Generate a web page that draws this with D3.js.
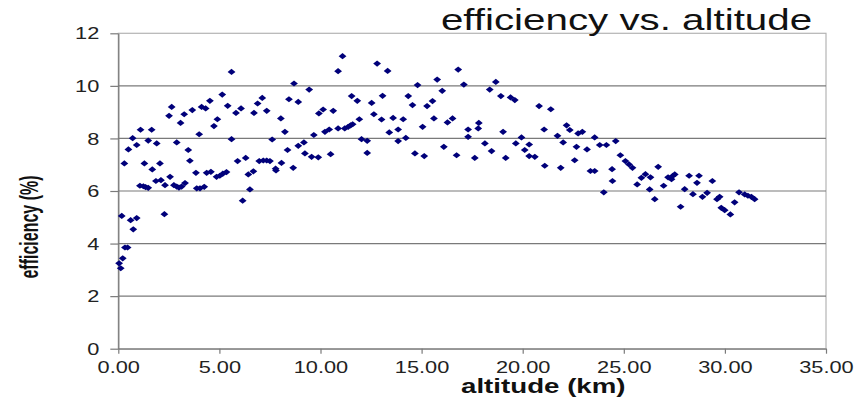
<!DOCTYPE html>
<html>
<head>
<meta charset="utf-8">
<script src="https://cdn.jsdelivr.net/npm/d3@7"></script>
<style>
  html, body { margin: 0; padding: 0; background: #fff; }
  svg { display: block; font-family: "Liberation Sans", Arial, sans-serif; }
</style>
</head>
<body>
<svg id="chart" width="856" height="399"></svg>
<script>
// altitude (km) of each sample
const altitude = [
  0.04, 0.12, 0.22, 0.17, 0.33, 0.46, 0.30, 0.50, 0.71, 0.61, 0.74, 0.91, 0.91, 1.10, 1.29,
  1.07, 1.24, 1.35, 1.48, 1.48, 1.65, 1.68, 1.90, 1.86, 2.06, 2.11, 2.28, 2.31, 2.51, 2.64,
  2.56, 2.75, 2.89, 3.00, 3.13, 3.30, 2.89, 3.08, 3.26, 3.46, 3.54, 3.66, 3.84, 3.88, 4.04,
  4.25, 4.00, 4.12, 4.32, 4.53, 4.37, 4.58, 4.73, 4.86, 5.02, 5.17, 5.35, 4.90, 5.14, 5.41,
  5.60, 5.60, 5.82, 5.90, 6.07, 6.15, 6.30, 6.43, 6.51, 6.71, 6.68, 6.89, 6.97, 7.17, 7.34,
  7.50, 7.12, 7.34, 7.61, 7.78, 7.80, 8.04, 8.07, 8.24, 8.37, 8.44, 8.69, 8.65, 8.90, 8.90,
  9.18, 9.23, 9.44, 9.56, 9.89, 9.67, 9.92, 10.13, 10.22, 10.43, 10.50, 10.63, 10.87, 10.87, 11.09,
  11.20, 11.37, 11.49, 11.59, 11.54, 11.82, 11.92, 12.03, 12.31, 12.31, 12.53, 12.64, 12.80, 13.02, 13.07,
  13.32, 13.40, 13.59, 13.84, 13.84, 14.09, 14.22, 14.34, 14.55, 14.67, 14.80, 15.05, 15.13, 15.27, 15.54,
  15.61, 15.77, 16.02, 16.10, 16.28, 16.53, 16.73, 16.81, 17.09, 17.30, 17.30, 17.63, 17.80, 17.83,
  18.13, 18.37, 18.46, 18.67, 18.92, 19.03, 19.16, 19.40, 19.61, 19.66, 19.94, 20.10, 20.32, 20.32, 20.60,
  20.81, 21.06, 21.09, 21.39, 21.72, 21.88, 22.00, 22.17, 22.33, 22.66, 22.74, 22.95, 22.57, 23.18, 23.35,
  23.56, 23.56, 23.81, 24.14, 24.01, 24.42, 24.44, 24.60, 24.83, 25.08, 25.26, 25.43, 25.66, 25.87, 26.07,
  26.32, 26.28, 26.53, 26.70, 26.97, 27.19, 27.36, 27.43, 27.52, 27.81, 28.01, 28.23, 28.72, 28.42, 28.62,
  28.89, 29.12, 29.38, 29.61, 29.74, 29.82, 29.99, 30.27, 30.48, 30.70, 30.98, 31.14, 31.31, 31.47
];

// efficiency (%) of each sample, same order
const efficiency = [
  3.25, 3.06, 3.44, 5.05, 3.85, 3.85, 7.05, 7.58, 8.01, 4.89, 4.54, 4.97, 7.75, 8.33, 7.05,
  6.20, 6.18, 6.15, 6.12, 7.92, 8.33, 6.82, 7.81, 6.38, 7.05, 6.41, 5.12, 6.22, 8.86, 9.20,
  6.54, 6.22, 6.17, 6.13, 6.17, 6.30, 7.85, 8.59, 8.92, 7.56, 7.15, 9.08, 6.69, 6.10, 6.10,
  6.16, 8.16, 9.20, 9.14, 9.43, 6.69, 6.73, 8.47, 6.54, 6.58, 6.66, 6.72, 8.73, 9.67, 9.24,
  10.53, 7.97, 8.97, 7.14, 9.14, 5.63, 7.26, 6.63, 6.06, 8.97, 6.75, 9.33, 7.14, 7.16, 7.16,
  7.14, 9.54, 9.05, 7.96, 6.85, 6.78, 8.76, 7.07, 8.25, 7.56, 9.49, 10.09, 6.88, 9.39, 7.72,
  7.85, 7.43, 9.86, 7.30, 7.28, 8.13, 8.95, 9.10, 8.25, 8.34, 7.40, 9.05, 10.56, 8.38, 11.13,
  8.38, 8.44, 8.50, 8.54, 9.61, 9.43, 8.73, 7.97, 7.91, 7.45, 9.35, 8.92, 10.85, 8.72, 9.62,
  10.57, 8.23, 8.78, 8.34, 7.90, 8.73, 8.02, 9.61, 9.27, 7.43, 10.03, 8.44, 7.33, 9.23, 9.42,
  8.76, 10.24, 9.81, 7.68, 8.61, 8.76, 7.36, 10.62, 10.05, 8.34, 8.06, 7.26, 8.38, 8.59,
  7.81, 9.86, 7.52, 10.15, 9.61, 8.25, 7.26, 9.56, 9.46, 7.81, 8.04, 7.56, 7.77, 7.33, 7.30,
  9.23, 8.34, 6.96, 9.11, 8.10, 6.88, 7.85, 8.50, 8.32, 7.68, 8.19, 8.25, 7.17, 7.58, 6.76,
  6.76, 8.04, 7.75, 7.75, 5.95, 6.83, 6.38, 7.90, 7.36, 7.14, 7.01, 6.88, 6.25, 6.50, 6.64,
  6.52, 6.06, 5.69, 6.92, 6.20, 6.52, 6.45, 6.58, 6.63, 5.40, 6.07, 6.58, 6.58, 5.88, 6.31,
  5.78, 5.93, 6.38, 5.69, 5.78, 5.36, 5.27, 5.11, 5.57, 5.95, 5.87, 5.82, 5.78, 5.69
];

const xTicks = [0, 5, 10, 15, 20, 25, 30, 35];
const yTicks = [0, 2, 4, 6, 8, 10, 12];

const $svg = d3.select("#chart");

// the source image is stretched sideways, so text gets a horizontal scale
const stretch = 1.32;

const x = d3.scaleLinear().domain([0, 35]).range([118.3, 826]);
const y = d3.scaleLinear().domain([0, 12]).range([348.7, 33.3]);

// plot area border
$svg.append("rect")
    .attr("x", x(0)).attr("y", y(12))
    .attr("width", x(35) - x(0)).attr("height", y(0) - y(12))
    .attr("fill", "#fff")
    .attr("stroke", "#b4b4b4")
    .attr("stroke-width", 1.2);

// grid
$svg.append("g")
  .selectAll("line")
  .data(yTicks.filter(d => d > 0 && d < 12))
  .join("line")
    .attr("x1", x(0)).attr("x2", x(35))
    .attr("y1", d => y(d)).attr("y2", d => y(d))
    .attr("stroke", "#7a7a7a")
    .attr("stroke-width", 1.2);

// axes
const yAxis = d3.axisLeft(y).tickValues(yTicks).tickFormat(d3.format("d"))
    .tickSize(8).tickSizeOuter(0);
const xAxis = d3.axisBottom(x).tickValues(xTicks).tickFormat(d3.format(".2f"))
    .tickSize(5).tickSizeOuter(0);

const $yAxis = $svg.append("g")
    .attr("transform", `translate(${x(0)},0)`)
    .call(yAxis);

const $xAxis = $svg.append("g")
    .attr("transform", `translate(0,${y(0)})`)
    .call(xAxis);

[$yAxis, $xAxis].forEach($a => {
    $a.select(".domain").attr("stroke", "#7a7a7a").attr("stroke-width", 1.3);
    $a.selectAll(".tick line").attr("stroke", "#7a7a7a").attr("stroke-width", 1.2);
    $a.selectAll("text")
        .attr("fill", "#222")
        .attr("font-size", 16.5)
        .attr("font-family", "'Liberation Sans', Arial, sans-serif");
});

$yAxis.selectAll(".tick text")
    .attr("x", 0).attr("dy", "0.34em")
    .attr("text-anchor", "end")
    .attr("transform", `translate(-19,0) scale(${stretch},1)`);

$xAxis.selectAll(".tick text")
    .attr("y", 0).attr("dy", 0)
    .attr("text-anchor", "middle")
    .attr("transform", `translate(0,24.6) scale(${stretch},1)`);

// points
const diamond = "M-3.9,0L0,-3.1L3.9,0L0,3.1Z";
$svg.append("g")
  .selectAll("path")
  .data(altitude.map((a, i) => ({ a, e: efficiency[i] })))
  .join("path")
    .attr("d", diamond)
    .attr("transform", d => `translate(${x(d.a)},${y(d.e)})`)
    .attr("fill", "#00007a");

// titles
$svg.append("text")
    .attr("transform", `translate(626.5,30) scale(1.39,1)`)
    .attr("text-anchor", "middle")
    .attr("font-size", 29)
    .attr("fill", "#111")
    .text("efficiency vs. altitude");

$svg.append("text")
    .attr("transform", `translate(543.3,393.3) scale(1.42,1)`)
    .attr("text-anchor", "middle")
    .attr("font-size", 19.5)
    .attr("font-weight", "bold")
    .attr("fill", "#111")
    .text("altitude (km)");

$svg.append("text")
    .attr("transform", `translate(38,227) scale(1.65,1) rotate(-90)`)
    .attr("text-anchor", "middle")
    .attr("font-size", 16)
    .attr("font-weight", "bold")
    .attr("fill", "#111")
    .text("efficiency (%)");
</script>
</body>
</html>
